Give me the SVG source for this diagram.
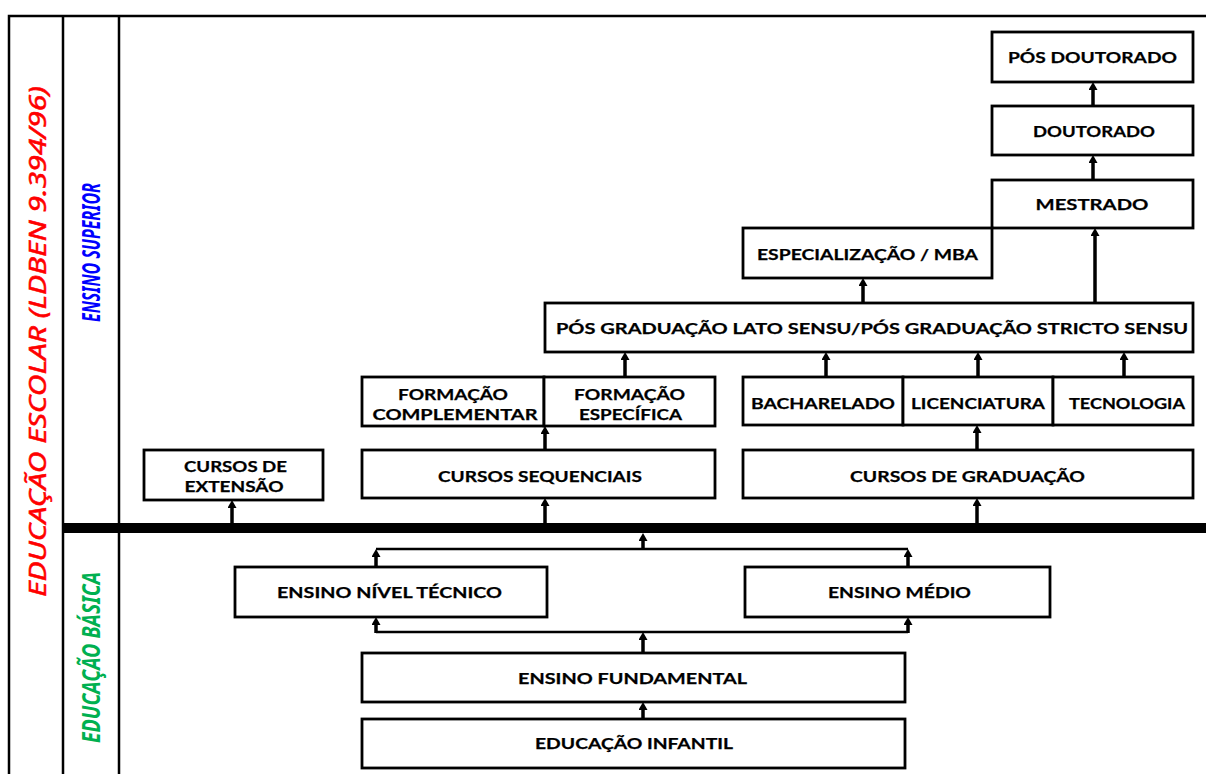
<svg xmlns="http://www.w3.org/2000/svg" width="1206" height="774" viewBox="0 0 1206 774">
<style>
.box{fill:#fff;stroke:#000;stroke-width:2.8}
.lbl{font-family:Lato,"Liberation Sans",sans-serif;font-weight:bold;font-size:16px;fill:#000;text-anchor:middle;stroke:#000;stroke-width:0.25}
.frame{stroke:#000;stroke-width:2.5;fill:none}
.arr{stroke:#000;stroke-width:3.5;fill:none;marker-end:url(#ah)}
.conn{stroke:#000;stroke-width:2.5;fill:none}
.side{font-family:"Noto Sans","Liberation Sans",sans-serif;font-style:italic;text-anchor:middle}
</style>
<defs>
<marker id="ah" viewBox="0 0 8 9" markerWidth="8" markerHeight="9" markerUnits="userSpaceOnUse" refX="2" refY="4.5" orient="auto"><path d="M0,0 L8,4.5 L0,9 z" fill="#000"/></marker>
</defs>
<rect width="1206" height="774" fill="#fff"/>
<g id="frame">
<path class="frame" d="M9,774 V16 H1206"/>
<path class="frame" d="M63,16 V774"/>
<path class="frame" d="M119,16 V774"/>
<rect x="63" y="523" width="1143" height="10" fill="#000"/>
<text class="side" transform="translate(46,341.5) rotate(-90) scale(1,1.3)" font-size="18" fill="#FF0000" stroke="#FF0000" stroke-width="0.4" textLength="511" lengthAdjust="spacingAndGlyphs">EDUCAÇÃO ESCOLAR (LDBEN 9.394/96)</text>
<text class="side" transform="translate(100,252.5) rotate(-90) scale(1,1.3)" font-size="18.5" font-weight="bold" fill="#0000FF" textLength="139" lengthAdjust="spacingAndGlyphs">ENSINO SUPERIOR</text>
<text class="side" transform="translate(100,657.5) rotate(-90) scale(1,1.3)" font-size="18.5" font-weight="bold" fill="#00B050" textLength="171" lengthAdjust="spacingAndGlyphs">EDUCAÇÃO BÁSICA</text>
</g>
<g id="connectors">
<line class="arr" x1="1093" y1="106" x2="1093" y2="88"/>
<line class="arr" x1="1093" y1="180" x2="1093" y2="161"/>
<line class="arr" x1="1095" y1="303" x2="1095" y2="234"/>
<line class="arr" x1="863" y1="303" x2="863" y2="284"/>
<line class="arr" x1="625" y1="377" x2="625" y2="358"/>
<line class="arr" x1="826" y1="377" x2="826" y2="358"/>
<line class="arr" x1="978" y1="377" x2="978" y2="358"/>
<line class="arr" x1="1124" y1="377" x2="1124" y2="358"/>
<line class="arr" x1="545" y1="450" x2="545" y2="432"/>
<line class="arr" x1="977" y1="450" x2="977" y2="431"/>
<line class="arr" x1="232" y1="523" x2="232" y2="506"/>
<line class="arr" x1="545" y1="523" x2="545" y2="504"/>
<line class="arr" x1="977" y1="523" x2="977" y2="504"/>
<line class="arr" x1="643" y1="549" x2="643" y2="539"/>
<line class="conn" x1="376" y1="549" x2="908" y2="549"/>
<line class="arr" x1="376" y1="567" x2="376" y2="555"/>
<line class="arr" x1="908" y1="567" x2="908" y2="555"/>
<line class="conn" x1="376" y1="632" x2="908" y2="632"/>
<line class="arr" x1="376" y1="633" x2="376" y2="623"/>
<line class="arr" x1="908" y1="633" x2="908" y2="623"/>
<line class="arr" x1="643" y1="653" x2="643" y2="638"/>
<line class="arr" x1="643" y1="719" x2="643" y2="708"/>
</g>
<g id="pos-doutorado"><rect class="box" x="992" y="32" width="201" height="50"/><text class="lbl" x="1092.5" y="63" textLength="169" lengthAdjust="spacingAndGlyphs">PÓS DOUTORADO</text></g>
<g id="doutorado"><rect class="box" x="992" y="106" width="201" height="49"/><text class="lbl" x="1094" y="137" textLength="122" lengthAdjust="spacingAndGlyphs">DOUTORADO</text></g>
<g id="mestrado"><rect class="box" x="992" y="180" width="201" height="48"/><text class="lbl" x="1092" y="210" textLength="113" lengthAdjust="spacingAndGlyphs">MESTRADO</text></g>
<g id="especializacao"><rect class="box" x="743" y="228" width="249" height="50"/><text class="lbl" x="867.5" y="260" textLength="221" lengthAdjust="spacingAndGlyphs">ESPECIALIZAÇÃO / MBA</text></g>
<g id="pos-graduacao"><rect class="box" x="545" y="303" width="648" height="49"/><text class="lbl" x="872" y="334" textLength="632" lengthAdjust="spacingAndGlyphs">PÓS GRADUAÇÃO LATO SENSU/PÓS GRADUAÇÃO STRICTO SENSU</text></g>
<g id="formacao-complementar"><rect class="box" x="362" y="377" width="182" height="49"/><text class="lbl" x="453" y="400" textLength="110" lengthAdjust="spacingAndGlyphs">FORMAÇÃO</text><text class="lbl" x="455" y="420" textLength="165" lengthAdjust="spacingAndGlyphs">COMPLEMENTAR</text></g>
<g id="formacao-especifica"><rect class="box" x="544" y="377" width="171" height="49"/><text class="lbl" x="629.5" y="400" textLength="111" lengthAdjust="spacingAndGlyphs">FORMAÇÃO</text><text class="lbl" x="630.5" y="420" textLength="103" lengthAdjust="spacingAndGlyphs">ESPECÍFICA</text></g>
<g id="bacharelado"><rect class="box" x="743" y="377" width="160" height="48"/><text class="lbl" x="823" y="409" textLength="144" lengthAdjust="spacingAndGlyphs">BACHARELADO</text></g>
<g id="licenciatura"><rect class="box" x="903" y="377" width="150" height="48"/><text class="lbl" x="978" y="409" textLength="134" lengthAdjust="spacingAndGlyphs">LICENCIATURA</text></g>
<g id="tecnologia"><rect class="box" x="1053" y="377" width="140" height="48"/><text class="lbl" x="1127" y="409" textLength="116" lengthAdjust="spacingAndGlyphs">TECNOLOGIA</text></g>
<g id="cursos-extensao"><rect class="box" x="144" y="450" width="179" height="50"/><text class="lbl" x="235.5" y="472" textLength="103" lengthAdjust="spacingAndGlyphs">CURSOS DE</text><text class="lbl" x="234" y="492" textLength="99" lengthAdjust="spacingAndGlyphs">EXTENSÃO</text></g>
<g id="cursos-sequenciais"><rect class="box" x="362" y="450" width="353" height="48"/><text class="lbl" x="540" y="482" textLength="204" lengthAdjust="spacingAndGlyphs">CURSOS SEQUENCIAIS</text></g>
<g id="cursos-graduacao"><rect class="box" x="743" y="450" width="450" height="48"/><text class="lbl" x="967.5" y="482" textLength="235" lengthAdjust="spacingAndGlyphs">CURSOS DE GRADUAÇÃO</text></g>
<g id="ensino-tecnico"><rect class="box" x="235" y="567" width="312" height="50"/><text class="lbl" x="389.5" y="598" textLength="225" lengthAdjust="spacingAndGlyphs">ENSINO NÍVEL TÉCNICO</text></g>
<g id="ensino-medio"><rect class="box" x="745" y="567" width="305" height="50"/><text class="lbl" x="899.5" y="598" textLength="143" lengthAdjust="spacingAndGlyphs">ENSINO MÉDIO</text></g>
<g id="ensino-fundamental"><rect class="box" x="362" y="653" width="543" height="49"/><text class="lbl" x="632.5" y="684" textLength="229" lengthAdjust="spacingAndGlyphs">ENSINO FUNDAMENTAL</text></g>
<g id="educacao-infantil"><rect class="box" x="362" y="719" width="543" height="49"/><text class="lbl" x="634" y="749" textLength="198" lengthAdjust="spacingAndGlyphs">EDUCAÇÃO INFANTIL</text></g>
</svg>
